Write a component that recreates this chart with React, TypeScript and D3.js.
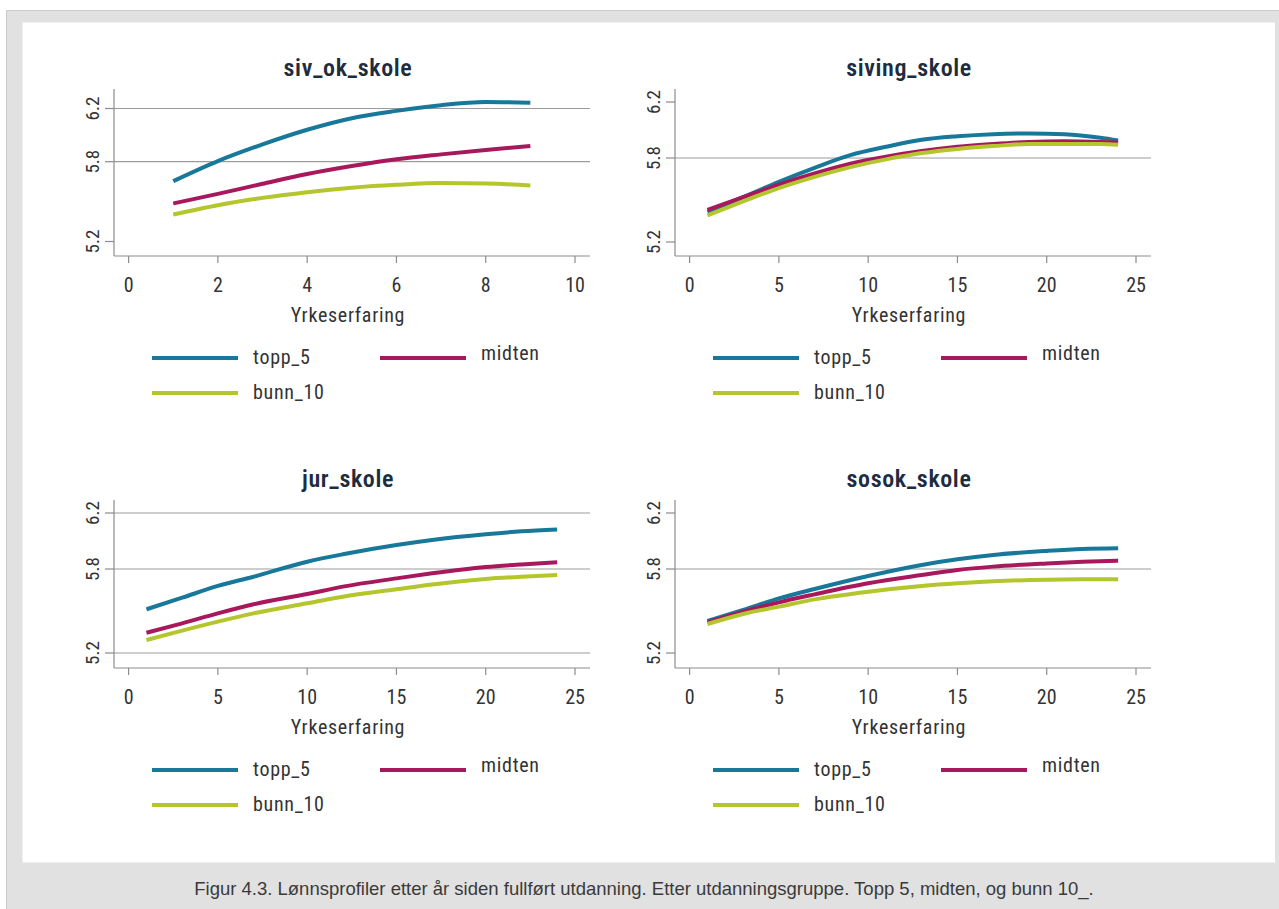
import React from "react";
import * as d3 from "d3";

// ---------- DATA ----------
const panelTitles = ["siv_ok_skole", "siving_skole", "jur_skole", "sosok_skole"];
const seriesNames = ["topp_5", "midten", "bunn_10"];
const seriesColors = ["#17789a", "#a8185c", "#b4c62c"];
const xAxisLabel = "Yrkeserfaring";
const caption =
  "Figur 4.3. Lønnsprofiler etter år siden fullført utdanning. Etter utdanningsgruppe. Topp 5, midten, og bunn 10_.";
const yTickValues = [5.2, 5.8, 6.2];
const xTicksShort = [0, 2, 4, 6, 8, 10];
const xTicksLong = [0, 5, 10, 15, 20, 25];

// siv_ok_skole
const sivOkX = [1, 2, 3, 4, 5, 6, 7, 8, 9];
const sivOkTopp = [5.654, 5.805, 5.93, 6.04, 6.127, 6.182, 6.225, 6.248, 6.243];
const sivOkMidten = [5.486, 5.558, 5.634, 5.707, 5.767, 5.818, 5.855, 5.888, 5.918];
const sivOkBunn = [5.403, 5.473, 5.528, 5.571, 5.604, 5.626, 5.639, 5.636, 5.621];

// siving_skole
const sivingX = [1, 3, 5, 7, 9, 11, 13, 15, 17, 19, 21, 23, 24];
const sivingTopp = [5.415, 5.52, 5.63, 5.73, 5.82, 5.88, 5.93, 5.955, 5.97, 5.975, 5.97, 5.945, 5.925];
const sivingMidten = [5.43, 5.52, 5.61, 5.69, 5.76, 5.81, 5.85, 5.88, 5.9, 5.915, 5.92, 5.915, 5.91];
const sivingBunn = [5.39, 5.49, 5.585, 5.665, 5.735, 5.79, 5.835, 5.865, 5.885, 5.9, 5.9, 5.9, 5.895];

// jur_skole
const jurX = [1, 3, 5, 7, 10, 12, 15, 17, 20, 22, 24];
const jurTopp = [5.512, 5.595, 5.679, 5.745, 5.852, 5.905, 5.971, 6.007, 6.048, 6.069, 6.083];
const jurMidten = [5.345, 5.412, 5.483, 5.548, 5.621, 5.674, 5.733, 5.769, 5.814, 5.833, 5.848];
const jurBunn = [5.293, 5.36, 5.424, 5.483, 5.555, 5.602, 5.655, 5.69, 5.729, 5.745, 5.757];

// sosok_skole
const sosokX = [1, 3, 5, 7, 10, 13, 15, 17, 20, 22, 24];
const sosokTopp = [5.429, 5.507, 5.59, 5.657, 5.75, 5.829, 5.869, 5.9, 5.929, 5.943, 5.948];
const sosokMidten = [5.419, 5.495, 5.562, 5.619, 5.698, 5.757, 5.793, 5.817, 5.84, 5.852, 5.86];
const sosokBunn = [5.407, 5.479, 5.531, 5.583, 5.638, 5.679, 5.698, 5.712, 5.724, 5.726, 5.726];

const panelData = [
  { x: sivOkX, series: [sivOkTopp, sivOkMidten, sivOkBunn], xMax: 10, xTicks: xTicksShort, grid: [6.2, 5.8] },
  { x: sivingX, series: [sivingTopp, sivingMidten, sivingBunn], xMax: 25, xTicks: xTicksLong, grid: [5.8] },
  { x: jurX, series: [jurTopp, jurMidten, jurBunn], xMax: 25, xTicks: xTicksLong, grid: [6.2, 5.8, 5.2] },
  { x: sosokX, series: [sosokTopp, sosokMidten, sosokBunn], xMax: 25, xTicks: xTicksLong, grid: [5.8] },
];

// ---------- LAYOUT ----------
const W = 1279;
const H = 909;
const chartFont = "'Liberation Sans Narrow', 'Roboto Condensed', 'DejaVu Sans Condensed', 'Liberation Sans', sans-serif";
const panelLayout = [
  { dx: 0, top: 89, bottom: 256, y52: 241.5, y62: 108.5, titleY: 76 },
  { dx: 561, top: 89, bottom: 256, y52: 242, y62: 102, titleY: 76 },
  { dx: 0, top: 500, bottom: 668, y52: 653, y62: 513, titleY: 487 },
  { dx: 561, top: 500, bottom: 668, y52: 653, y62: 513, titleY: 487 },
];

function Panel({ idx }: { idx: number }) {
  const d = panelData[idx];
  const L = panelLayout[idx];
  const axisX = 114 + L.dx;
  const rightX = 590 + L.dx;
  const x = d3.scaleLinear().domain([0, d.xMax]).range([128.6 + L.dx, 575 + L.dx]);
  const y = d3.scaleLinear().domain([5.2, 6.2]).range([L.y52, L.y62]);
  const line = d3
    .line<[number, number]>()
    .x((p) => x(p[0]))
    .y((p) => y(p[1]))
    .curve(d3.curveMonotoneX);
  const midX = (axisX + rightX) / 2;
  const legY1 = L.bottom + 102;
  const legY2 = L.bottom + 137;
  const legItems = [
    { name: seriesNames[0], color: seriesColors[0], x1: 152 + L.dx, y: legY1, dy: 6 },
    { name: seriesNames[1], color: seriesColors[1], x1: 380 + L.dx, y: legY1, dy: 2 },
    { name: seriesNames[2], color: seriesColors[2], x1: 152 + L.dx, y: legY2, dy: 6 },
  ];
  return (
    <g fontFamily={chartFont}>
      <text
        x={midX - 4}
        y={L.titleY}
        textAnchor="middle"
        fontSize={24}
        fontWeight={600}
        letterSpacing={0.6}
        fill="#1e2c40"
      >
        {panelTitles[idx]}
      </text>
      {d.grid.map((g) => (
        <line key={"g" + g} x1={axisX} x2={rightX} y1={y(g)} y2={y(g)} stroke="#9c9c9c" strokeWidth={1.2} />
      ))}
      <line x1={axisX} x2={axisX} y1={L.top} y2={L.bottom} stroke="#8c8c8c" strokeWidth={1.2} />
      <line x1={axisX} x2={rightX} y1={L.bottom} y2={L.bottom} stroke="#8c8c8c" strokeWidth={1.2} />
      {yTickValues.map((t) => (
        <g key={"yt" + t}>
          <line x1={axisX - 9} x2={axisX} y1={y(t)} y2={y(t)} stroke="#8c8c8c" strokeWidth={1.2} />
          <text
            transform={`translate(${axisX - 22},${y(t)}) rotate(-90)`}
            textAnchor="middle"
            dominantBaseline="central"
            fontSize={19}
            fill="#333"
          >
            {t.toFixed(1)}
          </text>
        </g>
      ))}
      {d.xTicks.map((t) => (
        <g key={"xt" + t}>
          <line x1={x(t)} x2={x(t)} y1={L.bottom} y2={L.bottom + 7} stroke="#8c8c8c" strokeWidth={1.2} />
          <text x={x(t)} y={L.bottom + 36} textAnchor="middle" fontSize={20} fill="#333">
            {t}
          </text>
        </g>
      ))}
      <text x={midX - 4} y={L.bottom + 66} textAnchor="middle" fontSize={20} letterSpacing={0.7} fill="#333">
        {xAxisLabel}
      </text>
      {d.series.map((vals, si) => (
        <path
          key={"s" + si}
          d={line(d.x.map((xv, i) => [xv, vals[i]] as [number, number])) || ""}
          fill="none"
          stroke={seriesColors[si]}
          strokeWidth={4}
          strokeLinecap="butt"
        />
      ))}
      {legItems.map((it) => (
        <g key={"l" + it.name}>
          <line x1={it.x1} x2={it.x1 + 86} y1={it.y} y2={it.y} stroke={it.color} strokeWidth={4} />
          <text x={it.x1 + 101} y={it.y + it.dy} fontSize={20} letterSpacing={0.7} fill="#333">
            {it.name}
          </text>
        </g>
      ))}
    </g>
  );
}

export default function App() {
  return (
    <svg
      width={W}
      height={H}
      style={{ position: "absolute", left: 0, top: 0, display: "block" }}
      xmlns="http://www.w3.org/2000/svg"
    >
      <rect x={0} y={0} width={W} height={H} fill="#ffffff" />
      <rect x={6.5} y={10.5} width={W} height={H} fill="#e1e1e1" stroke="#cbcbcb" strokeWidth={1} />
      <rect x={22.5} y={22.5} width={1252.5} height={840} fill="#ffffff" />
      {[0, 1, 2, 3].map((i) => (
        <Panel key={i} idx={i} />
      ))}
      <text
        x={644}
        y={895}
        textAnchor="middle"
        fontFamily="'Liberation Sans', Arial, sans-serif"
        fontSize={18.5}
        fill="#3a3a3a"
      >
        {caption}
      </text>
    </svg>
  );
}
